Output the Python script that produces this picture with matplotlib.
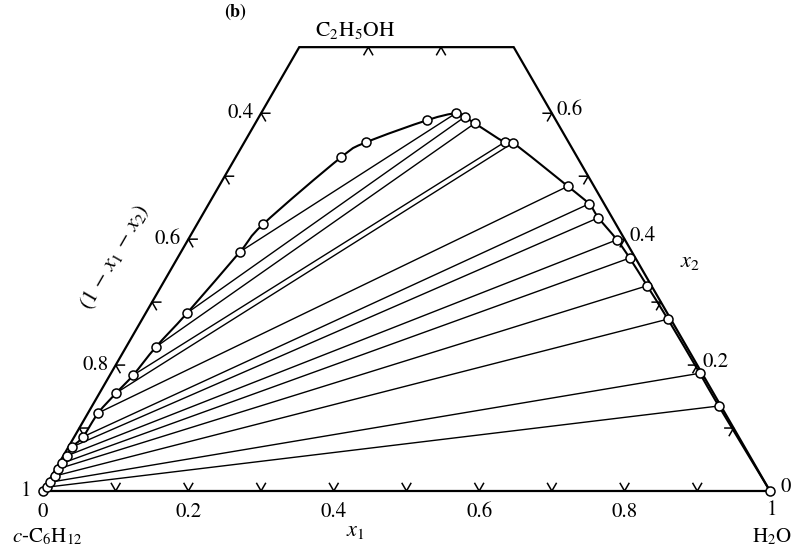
import numpy as np
import matplotlib.pyplot as plt
from matplotlib.path import Path
from matplotlib.patches import PathPatch

plt.rcParams['font.family'] = ['STIXGeneral', 'Liberation Serif', 'DejaVu Serif']
plt.rcParams['mathtext.fontset'] = 'stix'

# binodal points (x1 = water, x2 = ethanol), from the cyclohexane corner round to the water corner
binodal_x1 = [0.000, 0.002, 0.003, 0.005, 0.003, 0.004, 0.005, 0.005, 0.012, 0.014, 0.023, 0.032,
              0.041, 0.057, 0.081, 0.091, 0.145, 0.168, 0.234, 0.268, 0.283, 0.302, 0.358,
              0.370, 0.480, 0.523, 0.547, 0.590, 0.622, 0.668, 0.723, 0.810, 0.862, 1.000]
binodal_x2 = [0.000, 0.006, 0.014, 0.024, 0.035, 0.044, 0.056, 0.070, 0.086, 0.124, 0.156, 0.184,
              0.229, 0.283, 0.380, 0.424, 0.530, 0.554, 0.589, 0.600, 0.594, 0.584, 0.554,
              0.553, 0.484, 0.456, 0.434, 0.399, 0.370, 0.326, 0.273, 0.187, 0.135, 0.000]

# tie lines: cyclohexane-rich end -> water-rich end
tie_a_x1 = [0.002, 0.003, 0.005, 0.003, 0.004, 0.005, 0.005, 0.012, 0.014, 0.023, 0.032, 0.041, 0.057, 0.081]
tie_a_x2 = [0.006, 0.014, 0.024, 0.035, 0.044, 0.056, 0.070, 0.086, 0.124, 0.156, 0.184, 0.229, 0.283, 0.380]
tie_b_x1 = [0.862, 0.810, 0.723, 0.668, 0.622, 0.590, 0.547, 0.523, 0.480, 0.370, 0.358, 0.302, 0.283, 0.268]
tie_b_x2 = [0.135, 0.187, 0.273, 0.326, 0.370, 0.399, 0.434, 0.456, 0.484, 0.553, 0.554, 0.584, 0.594, 0.600]

top_x2 = 0.705          # the triangle is cut off here
bottom_ticks = [0.1, 0.2, 0.3, 0.4, 0.5, 0.6, 0.7, 0.8, 0.9]
side_ticks = [0.1, 0.2, 0.3, 0.4, 0.5, 0.6]
top_ticks_x3 = [0.2, 0.1]
bottom_labels = ['0.2', '0.4', '0.6', '0.8']
left_labels = ['0.8', '0.6', '0.4']      # value of 1 - x1 - x2
right_labels = ['0.2', '0.4', '0.6']     # value of x2

S3 = np.sqrt(3) / 2


def tern(x1, x2):
    x1 = np.asarray(x1, float)
    x2 = np.asarray(x2, float)
    return x1 + x2 / 2, x2 * S3


def smooth_path(xs, ys):
    # Catmull-Rom through the points, drawn as cubic Bezier segments
    pts = np.column_stack([xs, ys])
    verts = [pts[0]]
    codes = [Path.MOVETO]
    n = len(pts)
    for i in range(n - 1):
        p0 = pts[max(i - 1, 0)]
        p1 = pts[i]
        p2 = pts[i + 1]
        p3 = pts[min(i + 2, n - 1)]
        verts += [p1 + (p2 - p0) / 6, p2 - (p3 - p1) / 6, p2]
        codes += [Path.CURVE4] * 3
    return Path(verts, codes)


fig = plt.figure(figsize=(7.91, 5.49), dpi=100)
ax = fig.add_axes([0, 0, 1, 1])
ax.set_xlim(-0.0591, 1.0289)
ax.set_ylim(-0.0798, 0.6754)
ax.set_aspect('equal')
ax.axis('off')

# outline (truncated triangle)
ox, oy = tern([0, 1, 1 - top_x2, 0, 0], [0, 0, top_x2, top_x2, 0])
ax.plot(ox, oy, color='black', lw=1.6, solid_joinstyle='miter')

# tick marks: two short strokes along the other grid directions
tl = 0.012
for v in bottom_ticks:
    px, py = tern(v, 0)
    ax.plot([px - tl / 2, px, px + tl / 2], [py + tl * S3, py, py + tl * S3], color='black', lw=1.1)
for v in side_ticks:
    px, py = tern(0, v)
    ax.plot([px + tl, px, px + tl / 2], [py, py, py - tl * S3], color='black', lw=1.1)
    px, py = tern(1 - v, v)
    ax.plot([px - tl, px, px - tl / 2], [py, py, py - tl * S3], color='black', lw=1.1)
for v in top_ticks_x3:
    px, py = tern(1 - top_x2 - v, top_x2)
    ax.plot([px - tl / 2, px, px + tl / 2], [py - tl * S3, py, py - tl * S3], color='black', lw=1.1)

# tie lines
for a1, a2, b1, b2 in zip(tie_a_x1, tie_a_x2, tie_b_x1, tie_b_x2):
    lx, ly = tern([a1, b1], [a2, b2])
    ax.plot(lx, ly, color='black', lw=1.0)

# binodal curve with the measured points
bx, by = tern(binodal_x1, binodal_x2)
ax.add_patch(PathPatch(smooth_path(bx, by), fill=False, edgecolor='black', lw=1.5))
ax.plot(bx, by, ls='none', marker='o', ms=6.5, mfc='white', mec='black', mew=1.1, zorder=5)

# labels
fs = 15
for lab in bottom_labels:
    v = float(lab)
    px, py = tern(v, 0)
    ax.text(px, py - 0.029, lab, ha='center', va='center', fontsize=fs)
ax.text(0, -0.029, '0', ha='center', va='center', fontsize=fs)
ax.text(1.002, -0.027, '1', ha='center', va='center', fontsize=fs)
ax.text(-0.024, 0.0, '1', ha='center', va='center', fontsize=fs)
ax.text(1.022, 0.005, '0', ha='center', va='center', fontsize=fs)

for lab in left_labels:
    v = 1 - float(lab)
    px, py = tern(0, v)
    ax.text(px - 0.010, py, lab, ha='right', va='center', fontsize=fs)
for lab in right_labels:
    v = float(lab)
    px, py = tern(1 - v, v)
    ax.text(px + 0.007, py + 0.004, lab, ha='left', va='center', fontsize=fs)

ax.text(0.0061, -0.063, r'$c$-C$_6$H$_{12}$', ha='center', va='center', fontsize=15)
ax.text(1.003, -0.063, r'H$_2$O', ha='center', va='center', fontsize=15)
ax.text(0.4292, 0.633, r'C$_2$H$_5$OH', ha='center', va='center', fontsize=15.5)
ax.text(0.4292, -0.055, r'$x_1$', ha='center', va='center', fontsize=16)
ax.text(0.8900, 0.315, r'$x_2$', ha='center', va='center', fontsize=16)
ax.text(0.0990, 0.3219, r'$(1\,-\,x_1\,-\,x_2)$', ha='center', va='center', fontsize=16, rotation=60)
ax.text(0.2641, 0.659, '(b)', ha='center', va='center', fontsize=13, fontweight='bold')

fig.savefig('out.png', dpi=100, facecolor='white')
